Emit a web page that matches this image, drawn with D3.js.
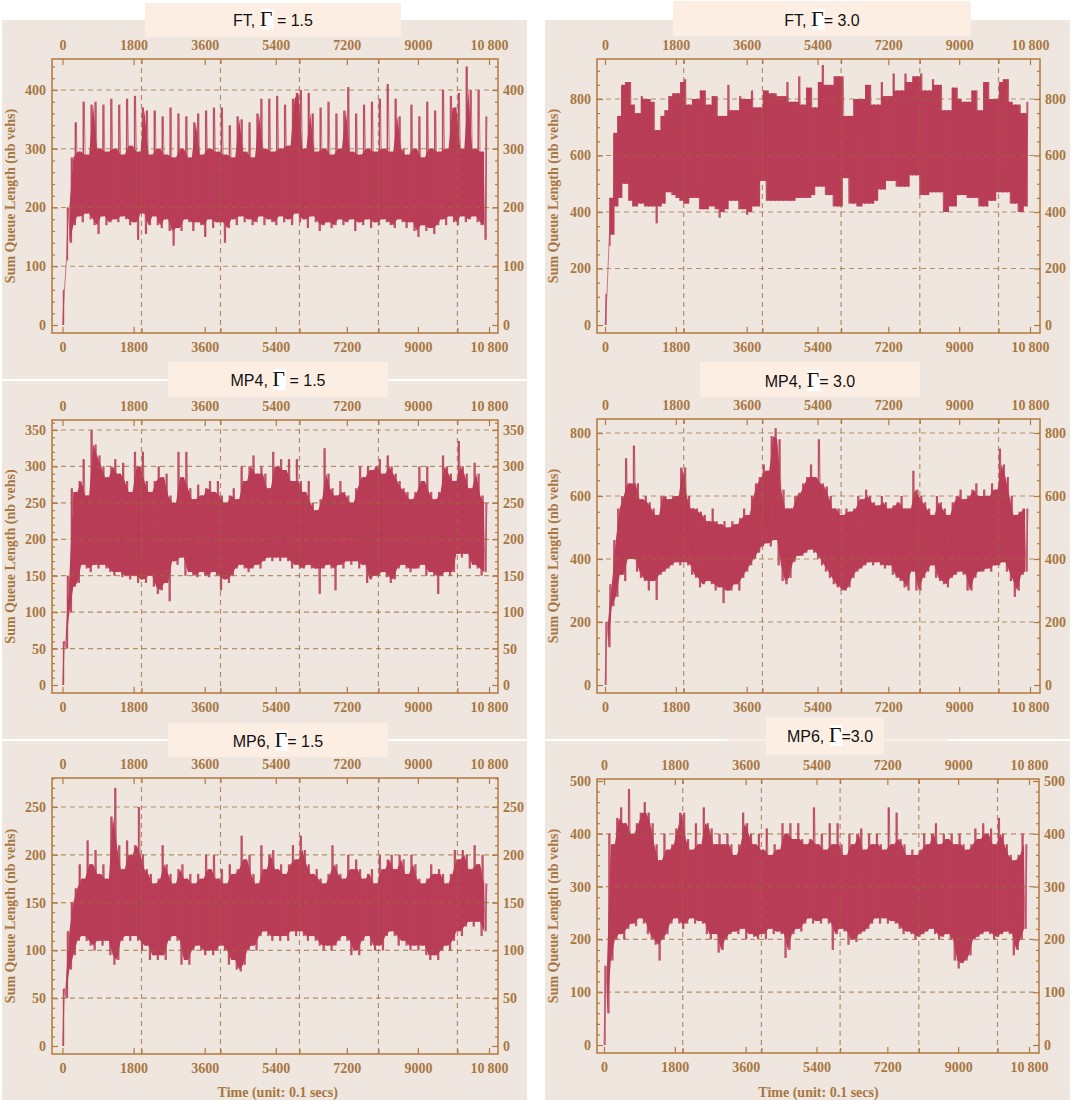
<!DOCTYPE html>
<html>
<head>
<meta charset="utf-8">
<script src="https://cdn.jsdelivr.net/npm/d3@7"></script>
<style>
  body { margin: 0; background: #ffffff; }
  svg { display: block; }
  .tick text { font-family: "Liberation Serif", serif; font-weight: bold; font-size: 14px; fill: #a8773f; }
  .tick line { stroke: #b27a3e; stroke-width: 1.2; }
</style>
</head>
<body>
<div id="chart"></div>
<script>
// sampling interval of the series below (time unit: 0.1 s)
// each series is stored as troughs (lo) and peaks (hi) of every 100-unit window
const timeStep = 100;

const xTicks = [0, 1800, 3600, 5400, 7200, 9000, 10800];
const xGrid = [2000, 4000, 6000, 8000, 10000];

// FT, gamma = 1.5
const ft15Lo = [0,110,140,170,185,175,190,180,170,155, 185,170,175,180,175,185,180,170,175,145,
  190,155,170,185,170,165,180,160,135,165, 160,180,175,160,175,170,150,180,165,175,
  175,140,165,180,170,185,175,180,170,175, 185,170,180,175,170,185,175,180,170,190,
  175,180,165,185,175,160,170,175,165,170, 180,170,175,180,160,175,170,180,165,175,
  170,180,175,170,165,180,175,165,175,160, 150,170,160,165,155,170,180,170,185,175,
  170,185,175,180,185,175,170,145];
const ft15Hi = [60,200,285,345,295,380,290,375,380,300, 375,295,385,300,375,290,385,305,390,295,
  370,365,290,365,300,355,290,370,285,360, 300,355,285,345,360,290,365,300,370,295,
  370,290,340,285,355,350,295,345,285,360, 385,300,385,295,390,300,375,305,385,395,
  400,300,395,360,295,370,300,380,290,360, 300,365,405,295,360,290,375,300,380,295,
  385,300,410,295,385,355,300,290,375,300, 355,285,380,300,365,295,400,300,390,370,
  395,300,440,400,300,400,295,355];

// FT, gamma = 3.0
const ft30Lo = [0,280,320,420,450,500,440,420,420,430, 420,420,420,360,420,430,470,460,450,440,
  430,430,450,450,410,410,410,420,410,380, 400,410,440,440,410,410,390,400,420,420,
  510,440,440,440,440,440,440,440,440,450, 450,450,450,460,490,490,460,460,420,420,
  420,520,430,430,420,420,430,430,430,440, 480,480,510,510,490,490,490,490,530,530,
  460,460,460,470,470,470,400,400,420,420, 460,460,450,450,450,420,420,420,440,440,
  470,470,470,430,430,400,400,420];
const ft30Hi = [110,450,680,740,850,860,860,780,750,810, 800,800,790,690,740,760,810,820,820,860,
  870,780,800,800,830,830,780,810,810,740, 740,850,760,760,810,800,800,830,770,770,
  830,830,820,820,810,810,860,790,790,880, 780,840,840,770,860,920,850,850,880,880,
  880,740,740,800,800,800,850,850,780,780, 860,810,810,890,830,830,890,860,880,880,
  890,830,830,870,850,850,760,760,840,840, 800,790,790,830,830,760,860,860,800,800,
  860,870,870,790,780,780,750,790];

// MP4, gamma = 1.5
const mp415Lo = [0,50,100,135,140,165,160,155,165,160, 165,160,155,150,155,148,150,145,150,140,
  145,140,150,135,125,130,140,115,170,165, 175,150,155,150,148,155,150,148,155,150,
  130,145,140,150,160,165,160,155,160,165, 160,170,175,170,175,170,175,170,160,165,
  160,160,165,160,160,125,160,165,160,130, 165,160,170,165,170,160,165,140,145,150,
  150,155,148,140,145,160,165,160,155,160, 160,165,150,155,150,125,150,155,150,155,
  180,175,180,160,165,160,150,155];
const mp415Hi = [60,150,270,265,280,310,260,350,330,315, 300,285,300,310,290,305,280,265,320,300,
  320,280,265,280,300,285,290,260,250,320, 285,320,270,255,275,260,270,280,265,280,
  260,250,260,270,255,300,280,300,315,290, 300,290,270,320,300,310,295,310,280,310,
  280,265,280,250,240,255,325,290,270,260, 280,265,260,250,270,300,285,300,295,300,
  310,290,315,300,290,280,270,265,255,265, 300,280,300,265,255,265,315,300,290,280,
  335,300,290,270,305,290,260,250];

// MP4, gamma = 3.0
const mp430Lo = [0,120,250,280,350,330,400,400,360,340, 330,300,330,270,350,360,370,380,390,380,
  390,380,350,340,310,320,330,320,300,310, 260,300,300,320,300,340,360,380,400,420,
  440,450,440,460,380,330,320,340,390,410, 410,420,430,420,400,380,360,340,320,310,
  300,300,310,340,360,370,380,390,380,390, 380,370,380,350,340,330,310,300,360,300,
  300,340,360,380,340,330,320,310,340,350, 360,350,300,300,340,360,360,370,360,380,
  380,390,360,330,280,300,350,360];
const mp430Hi = [200,320,460,560,600,720,640,760,640,590, 600,580,560,540,600,600,590,600,600,690,
  690,600,560,560,550,540,520,560,520,510, 520,500,520,510,530,560,540,600,640,660,
  700,680,790,815,780,620,560,560,600,610, 640,660,700,660,780,640,630,600,560,560,
  540,560,550,560,600,590,620,600,580,570, 600,580,560,570,580,600,560,560,680,620,
  600,580,560,540,600,580,560,540,580,600, 620,590,600,620,640,600,620,600,640,620,
  750,700,660,600,540,550,560,560];

// MP6, gamma = 1.5
const mp615Lo = [0,50,80,95,110,115,110,105,100,110, 105,110,95,85,90,110,115,110,115,110,
  100,105,90,95,90,95,90,110,115,110, 85,90,85,100,105,100,95,100,95,100,
  105,100,85,90,80,78,85,100,105,100, 115,120,115,110,115,110,115,110,120,115,
  120,115,110,115,110,105,100,105,100,105, 110,115,110,95,100,95,110,115,105,100,
  105,100,115,120,115,105,110,105,100,105, 100,105,95,90,95,90,100,105,100,110,
  120,115,125,130,125,130,115,120];
const mp615Hi = [60,120,150,165,190,175,215,190,205,180, 190,175,240,270,210,185,215,200,210,250,
  200,185,180,170,175,210,190,180,170,185, 190,175,180,170,180,175,200,185,200,175,
  185,170,190,180,185,220,195,200,180,170, 210,185,200,205,185,190,180,190,210,195,
  220,205,190,180,185,175,170,180,210,190, 180,175,200,185,195,185,175,180,185,170,
  200,185,195,200,185,200,195,180,200,190, 175,170,175,190,180,185,180,170,180,205,
  195,205,200,185,210,190,200,170];

// MP6, gamma = 3.0
const mp630Lo = [0,60,160,200,210,200,220,230,225,240, 230,210,200,190,160,200,210,230,240,230,
  220,230,240,230,235,230,210,200,210,175, 180,200,210,215,210,220,200,210,205,200,
  210,200,220,210,215,210,165,180,210,220, 215,230,240,230,235,230,240,230,180,210,
  220,215,190,200,195,210,215,220,230,240, 230,240,230,235,230,220,210,215,210,200,
  205,210,215,220,210,200,205,210,200,160, 145,155,160,170,200,205,210,215,210,200,
  205,210,215,210,170,180,200,220];
const mp630Hi = [150,400,380,430,450,420,485,400,420,440, 460,440,420,380,350,400,370,380,410,440,
  440,390,370,420,380,450,420,410,380,400, 380,400,380,360,380,440,420,400,380,400,
  370,410,360,380,370,420,400,420,390,420, 390,380,390,450,380,400,370,420,380,420,
  380,360,400,380,400,410,370,400,380,400, 380,370,450,380,440,390,380,360,370,360,
  370,400,380,400,420,380,400,390,400,380, 400,380,370,380,410,390,420,400,410,380,
  430,400,380,360,350,360,400,380];

// y tick labels for each panel
const ft15YTicks = [0, 100, 200, 300, 400];
const ft30YTicks = [0, 200, 400, 600, 800];
const mp415YTicks = [0, 50, 100, 150, 200, 250, 300, 350];
const mp430YTicks = [0, 200, 400, 600, 800];
const mp615YTicks = [0, 50, 100, 150, 200, 250];
const mp630YTicks = [0, 100, 200, 300, 400, 500];

// layout of the six panels (pixel positions)
const panels = [
  { pre: "FT, ", post: " = 1.5", lo: ft15Lo, hi: ft15Hi, yTicks: ft15YTicks, minor: 20, grid: [100, 200, 300, 400], step: false,
    bg: [2, 20, 525, 359], box: [145, 3, 256, 34], titleX: 273, titleY: 26,
    frame: [52, 59, 498, 333], x0: 62.5, x1: 489, y0: 325, yTop: 90, yTopVal: 400, xLabel: false },
  { pre: "FT, ", post: "= 3.0", lo: ft30Lo, hi: ft30Hi, yTicks: ft30YTicks, minor: 50, grid: [200, 400, 600, 800], step: true,
    bg: [545, 20, 525, 361], box: [673, 1, 298, 35], titleX: 822, titleY: 26,
    frame: [597, 59, 1040, 333], x0: 605, x1: 1030, y0: 325, yTop: 99, yTopVal: 800, xLabel: false },
  { pre: "MP4, ", post: " = 1.5", lo: mp415Lo, hi: mp415Hi, yTicks: mp415YTicks, minor: 10, grid: [50, 100, 150, 200, 250, 300, 350], step: false,
    bg: [2, 381, 525, 358], box: [168, 362, 220, 35], titleX: 278, titleY: 386,
    frame: [52, 420, 498, 693], x0: 62.5, x1: 489, y0: 685, yTop: 430, yTopVal: 350, xLabel: false },
  { pre: "MP4, ", post: "= 3.0", lo: mp430Lo, hi: mp430Hi, yTicks: mp430YTicks, minor: 50, grid: [200, 400, 600, 800], step: false,
    bg: [545, 381, 525, 358], box: [700, 362, 220, 35], titleX: 810, titleY: 387,
    frame: [597, 419, 1040, 693], x0: 605, x1: 1030, y0: 685, yTop: 433, yTopVal: 800, xLabel: false },
  { pre: "MP6, ", post: "= 1.5", lo: mp615Lo, hi: mp615Hi, yTicks: mp615YTicks, minor: 10, grid: [50, 100, 150, 200, 250], step: false,
    bg: [2, 741, 525, 359], box: [168, 723, 220, 34], titleX: 278, titleY: 747,
    frame: [52, 778, 498, 1054], x0: 62.5, x1: 489, y0: 1046, yTop: 807, yTopVal: 250, xLabel: true },
  { pre: "MP6, ", post: "=3.0", lo: mp630Lo, hi: mp630Hi, yTicks: mp630YTicks, minor: 20, grid: [100, 200, 300, 400], step: false,
    bg: [545, 741, 525, 359], box: [766, 717, 118, 38], outerBox: [727, 719, 220, 22], titleX: 830, titleY: 742,
    frame: [597, 779, 1039, 1053], x0: 604, x1: 1029, y0: 1045, yTop: 781, yTopVal: 500, xLabel: true }
];

const dataColor = "#b93d56";
const axisColor = "#b27a3e";
const labelColor = "#a8773f";

const svg = d3.select("#chart")
  .append("svg")
  .attr("width", 1072)
  .attr("height", 1101);

// "10800" is printed with a thin space as "10 800"
const fmtX = d => d < 10000 ? String(d) : String(d).slice(0, 2) + "\u2009" + String(d).slice(2);

// outer title boxes that sit behind panel backgrounds
panels.forEach(p => {
  if (p.outerBox) {
    svg.append("rect")
      .attr("x", p.outerBox[0]).attr("y", p.outerBox[1])
      .attr("width", p.outerBox[2]).attr("height", p.outerBox[3])
      .attr("fill", "#fdeee3");
  }
});

panels.forEach((p, k) => {
  const g = svg.append("g");

  g.append("rect")
    .attr("x", p.bg[0]).attr("y", p.bg[1])
    .attr("width", p.bg[2]).attr("height", p.bg[3])
    .attr("fill", "#eee6df");

  const [fx0, fy0, fx1, fy1] = p.frame;

  const x = d3.scaleLinear().domain([0, 10800]).range([p.x0, p.x1]);
  const y = d3.scaleLinear().domain([0, p.yTopVal]).range([p.y0, p.yTop]);

  const clipId = "clip" + k;
  g.append("clipPath").attr("id", clipId)
    .append("rect")
    .attr("x", fx0).attr("y", fy0)
    .attr("width", fx1 - fx0).attr("height", fy1 - fy0);

  const plot = g.append("g").attr("clip-path", `url(#${clipId})`);

  // one range per window: trough to peak
  const samples = p.lo.map((v, i) => ({ t: i * timeStep + timeStep / 4, lo: v, hi: p.hi[i] }));

  // dense part: where neighbouring windows overlap
  const overlaps = d3.pairs(samples)
    .map(([a, b]) => ({ t0: a.t, t1: b.t, lo: Math.max(a.lo, b.lo), hi: Math.min(a.hi, b.hi) }));

  if (p.step) {
    plot.append("g")
      .selectAll("rect")
      .data(overlaps.filter(d => d.hi > d.lo))
      .join("rect")
      .attr("x", d => x(d.t0) - 0.2)
      .attr("width", d => x(d.t1) - x(d.t0) + 0.4)
      .attr("y", d => y(d.hi))
      .attr("height", d => y(d.lo) - y(d.hi))
      .attr("fill", dataColor);
  } else {
    plot.append("path")
      .datum(overlaps)
      .attr("fill", dataColor)
      .attr("d", d3.area()
        .defined(d => d.hi > d.lo)
        .x(d => x((d.t0 + d.t1) / 2))
        .y0(d => y(d.lo))
        .y1(d => y(d.hi)));
  }

  // thin spikes: full range of every window
  plot.append("g")
    .selectAll("rect")
    .data(samples)
    .join("rect")
    .attr("x", d => x(d.t) - 0.7)
    .attr("width", 1.4)
    .attr("y", d => y(d.hi))
    .attr("height", d => y(d.lo) - y(d.hi))
    .attr("fill", dataColor)
    .attr("fill-opacity", 0.9);

  // the raw trace between troughs and peaks
  const pts = [];
  p.lo.forEach((v, i) => {
    pts.push([i * timeStep, v]);
    pts.push([i * timeStep + timeStep / 2, p.hi[i]]);
  });

  plot.append("path")
    .datum(pts)
    .attr("fill", "none")
    .attr("stroke", dataColor)
    .attr("stroke-width", 0.9)
    .attr("stroke-opacity", 0.75)
    .attr("d", d3.line().x(d => x(d[0])).y(d => y(d[1])));

  // dashed grid lines
  g.append("g")
    .selectAll("line")
    .data(xGrid)
    .join("line")
    .attr("x1", d => x(d)).attr("x2", d => x(d))
    .attr("y1", fy0).attr("y2", fy1)
    .attr("stroke", "#9c6a35")
    .attr("stroke-width", 1.2)
    .attr("stroke-dasharray", "5,4")
    .attr("opacity", 0.7);

  g.append("g")
    .selectAll("line")
    .data(p.grid)
    .join("line")
    .attr("x1", fx0).attr("x2", fx1)
    .attr("y1", d => y(d)).attr("y2", d => y(d))
    .attr("stroke", "#9c6a35")
    .attr("stroke-width", 1.2)
    .attr("stroke-dasharray", "5,4")
    .attr("opacity", 0.7);

  // axes on all four sides, ticks pointing inward
  const minorY = d3.range(0, p.yTopVal * 1.2, p.minor).filter(v => y(v) >= fy0 && p.yTicks.indexOf(v) < 0);

  const addAxis = (axis, tx, ty) => {
    const a = g.append("g").attr("transform", `translate(${tx},${ty})`).call(axis);
    a.select(".domain").remove();
    return a;
  };

  addAxis(d3.axisTop(x).tickValues(xTicks).tickSize(-6).tickPadding(9).tickFormat(fmtX), 0, fy0);
  addAxis(d3.axisBottom(x).tickValues(xTicks).tickSize(-6).tickPadding(9).tickFormat(fmtX), 0, fy1);
  addAxis(d3.axisTop(x).tickValues(xGrid).tickSize(-5).tickFormat(""), 0, fy0);
  addAxis(d3.axisBottom(x).tickValues(xGrid).tickSize(-5).tickFormat(""), 0, fy1);

  addAxis(d3.axisLeft(y).tickValues(p.yTicks).tickSize(-6).tickPadding(6), fx0, 0);
  addAxis(d3.axisRight(y).tickValues(p.yTicks).tickSize(-6).tickPadding(5), fx1, 0);
  addAxis(d3.axisLeft(y).tickValues(minorY).tickSize(-3).tickFormat(""), fx0, 0);
  addAxis(d3.axisRight(y).tickValues(minorY).tickSize(-3).tickFormat(""), fx1, 0);

  // frame
  g.append("rect")
    .attr("x", fx0).attr("y", fy0)
    .attr("width", fx1 - fx0).attr("height", fy1 - fy0)
    .attr("fill", "none")
    .attr("stroke", axisColor)
    .attr("stroke-width", 1.5);

  // y axis title
  const left = p.bg[0];
  g.append("text")
    .attr("transform", `translate(${left + 13},${(fy0 + fy1) / 2}) rotate(-90)`)
    .attr("text-anchor", "middle")
    .attr("font-family", "Liberation Serif, serif")
    .attr("font-weight", "bold")
    .attr("font-size", 14)
    .attr("fill", labelColor)
    .text("Sum Queue Length (nb vehs)");

  if (p.xLabel) {
    g.append("text")
      .attr("x", (p.x0 + p.x1) / 2 + 2)
      .attr("y", 1097)
      .attr("text-anchor", "middle")
      .attr("font-family", "Liberation Serif, serif")
      .attr("font-weight", "bold")
      .attr("font-size", 14)
      .attr("fill", labelColor)
      .text("Time (unit: 0.1 secs)");
  }
});

// title boxes on top
panels.forEach(p => {
  const t = svg.append("g");
  t.append("rect")
    .attr("x", p.box[0]).attr("y", p.box[1])
    .attr("width", p.box[2]).attr("height", p.box[3])
    .attr("fill", "#fdeee3");

  const gammaBg = t.append("rect").attr("fill", "#ffffff");

  const txt = t.append("text")
    .attr("x", p.titleX)
    .attr("y", p.titleY)
    .attr("text-anchor", "middle")
    .attr("font-family", "Liberation Sans, Arial, sans-serif")
    .attr("font-size", 16)
    .attr("fill", "#111111");
  txt.append("tspan").text(p.pre);
  txt.append("tspan")
    .attr("font-family", "Liberation Serif, serif")
    .attr("font-size", 22)
    .text("\u0393");
  txt.append("tspan").text(p.post);

  const ext = txt.node().getExtentOfChar(p.pre.length);
  gammaBg
    .attr("x", ext.x + 1).attr("y", ext.y + 3)
    .attr("width", ext.width).attr("height", ext.height - 4);
});
</script>
</body>
</html>
